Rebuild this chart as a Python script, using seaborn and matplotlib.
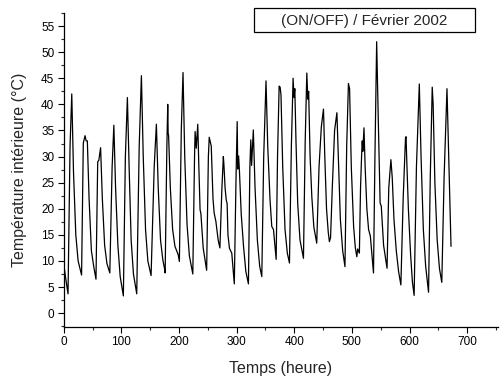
import numpy as np
import pandas as pd
import matplotlib
matplotlib.use("Agg")
import matplotlib.pyplot as plt
import matplotlib.patches as mpatches
import seaborn as sns
from matplotlib.ticker import MultipleLocator

# Key points (hour, indoor temperature in °C)
week1_hours = [0, 3, 7.5, 11, 14, 17, 21, 25, 31, 34, 37, 39, 41, 44, 48, 52, 56,
               59, 61, 64, 67, 71, 75, 80, 84, 87, 90, 94, 98, 103.5, 107, 110.5,
               113.5, 117, 121, 126.7, 131, 134.8, 138, 142, 146, 151.6, 157, 160.8,
               164, 168, 172, 175, 176]
week1_temps = [9.5, 7, 3.7, 32, 42, 27, 15, 10, 7.3, 32.6, 34, 33, 33, 22, 12, 9, 6.5,
               29, 29.3, 31.7, 22, 13, 9.5, 7.7, 28, 36, 24, 13, 7, 3.3, 30, 41.3,
               28, 14, 7.5, 3.7, 32, 45.5, 30, 16, 10, 7.2, 28, 36.2,
               24, 14, 10.2, 8.5, 7.7]

week2_hours = [179, 180.5, 181.2, 182, 185, 189, 193, 198.6, 200.7, 204, 207, 210, 214,
               218, 224, 227, 228, 230, 232.6, 234.5, 236.6, 238, 242, 248, 251, 252.5,
               254, 256, 259, 261, 264, 268, 271, 274.5, 277, 278, 280, 282, 283.5, 285,
               287.6, 291.6, 296, 299, 301, 302, 303.5, 305, 308, 312, 316, 320.5, 323,
               324.6, 326, 329, 332, 336, 340, 343.7]
week2_temps = [32, 40, 34.5, 34, 24, 16, 12.8, 11.2, 9.9, 35, 46.1, 30, 17,
               11, 7.5, 30, 34.8, 31.6, 36.2, 28, 19.8, 19.1, 12.5, 8.2, 30, 33.7,
               33, 32, 22, 19.2, 17.6, 14, 12.5, 24, 30, 28.4, 24, 21.7, 21, 15,
               12.4, 11.5, 5.6, 26, 36.7, 27.6, 30.1, 27, 19, 12.8, 8, 5.6, 28,
               33.2, 28.3, 35.1, 24, 14, 9, 7.0]

week3_hours = [347, 351, 354, 358, 361, 364, 368.6, 371, 373.8, 375.5, 377, 380, 384,
               388, 391.7, 395, 398, 399.5, 401, 403, 406, 410, 416, 419, 421.8, 423.5,
               425, 427.5, 430.5, 434, 439, 443, 447, 450.7, 453, 456, 459, 461, 463,
               466, 470, 474, 477, 480, 484, 488, 491, 494, 496, 499, 503, 506, 508.6]
week3_temps = [30, 44.5, 32, 21.7, 16.6, 16, 10.3, 30, 43.5, 43.3, 41.8, 28, 16,
               11.5, 9.6, 32, 45, 41.3, 43, 33, 21, 14, 10.5, 33, 46, 41,
               42.5, 30, 22.3, 16.5, 13.4, 28, 35.7, 39.1, 30, 20, 15.5, 13.7, 14.5,
               24, 35, 38.4, 28, 18, 12, 8.9, 32, 44, 43, 28, 16.6, 12.5, 10.8]

week4_hours = [510, 513, 515, 517, 518, 519, 521, 523, 526, 529, 532, 537.5, 540, 543,
               546, 549, 551, 555, 561, 564, 567.7, 570, 573, 577, 581, 585, 589, 592,
               593, 594, 595, 598, 602, 605, 608, 612, 617, 620, 624, 628, 633, 636,
               639.4, 641, 644, 648, 652, 656, 660, 665, 668, 671, 672]
week4_temps = [12.3, 11.5, 24, 30.6, 33, 31, 35.5, 28, 20, 16, 14.8, 7.7, 30, 52,
               36, 21.1, 20.5, 13, 8.6, 24, 29.4, 26, 18, 12, 8, 5.4, 22, 30.4,
               33.5, 33.8, 30, 20, 11, 6, 3.4, 28, 43.9, 30, 16, 9, 4.0, 26,
               43.3, 40, 25, 14, 8.5, 5.9, 26, 43, 30, 17, 12.8]

x_ticks = [0, 100, 200, 300, 400, 500, 600, 700]
y_ticks = list(range(0, 60, 5))
title_text = "(ON/OFF) / Février 2002"

df = pd.DataFrame({
    "Temps": week1_hours + week2_hours + week3_hours + week4_hours,
    "Temp": week1_temps + week2_temps + week3_temps + week4_temps,
})

sns.set_style("ticks")
plt.rcParams["font.family"] = ["Liberation Sans", "DejaVu Sans"]

fig = plt.figure(figsize=(5.04, 3.85), dpi=100)
ax = fig.add_axes([0.1264, 0.1514, 0.8611, 0.8148])

sns.lineplot(data=df, x="Temps", y="Temp", ax=ax, color="black",
             linewidth=0.9, estimator=None, sort=False)

ax.set_xlim(0, 753)
ax.set_ylim(-2.6, 57.5)
ax.set_xticks(x_ticks)
ax.set_yticks(y_ticks)
ax.xaxis.set_minor_locator(MultipleLocator(50))
ax.yaxis.set_minor_locator(MultipleLocator(2.5))
ax.tick_params(which="major", direction="out", length=4.3, width=0.8,
               labelsize=8.5, colors="black", pad=2.5)
ax.tick_params(which="minor", direction="out", length=2.5, width=0.8)
for s in ["top", "right"]:
    ax.spines[s].set_visible(False)
for s in ["left", "bottom"]:
    ax.spines[s].set_linewidth(0.9)
    ax.spines[s].set_color("black")

ax.set_xlabel("Temps (heure)", fontsize=11.5, labelpad=9)
ax.set_ylabel("Température intérieure (°C)", fontsize=11.5, labelpad=10)

# title box in figure pixel coordinates: x 254-475, y 8-32 (from top)
W, H = 504, 385
rect = mpatches.Rectangle((254 / W, 1 - 32 / H), (475 - 254) / W, 24 / H,
                          transform=fig.transFigure, facecolor="white",
                          edgecolor="black", linewidth=0.9, zorder=5)
fig.patches.append(rect)
fig.text(364.5 / W, 1 - 20.5 / H, title_text, fontsize=11,
         ha="center", va="center", zorder=6)

fig.savefig("out.png", dpi=100)
